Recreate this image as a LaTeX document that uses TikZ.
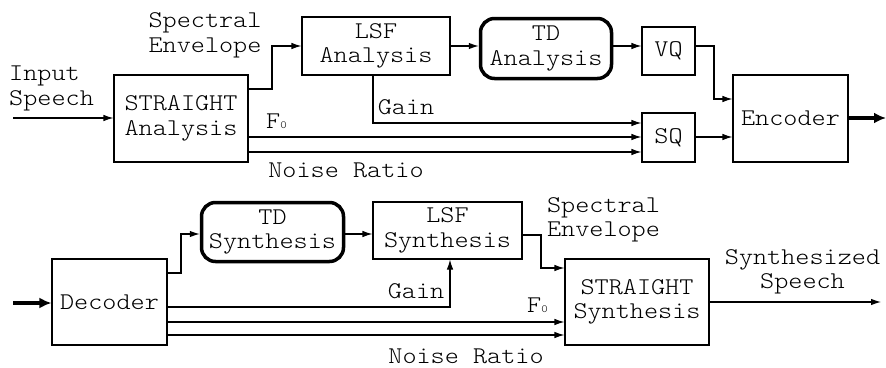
\documentclass[tikz,border=0pt]{standalone}
\usepackage{fontspec}
\setmonofont[FakeStretch=1.12]{Latin Modern Mono Light}
\usetikzlibrary{arrows.meta}
\begin{document}
\begin{tikzpicture}[x=1pt,y=-1pt,
  font=\ttfamily\fontsize{24}{24.5}\selectfont,
  box/.style={draw,line width=1.1pt,inner sep=0pt,align=center},
  tdbox/.style={draw,line width=3.5pt,rounded corners=14pt,inner sep=0pt,align=center},
  lbl/.style={inner sep=0pt,align=center},
  arr/.style={line width=1.1pt,-{Latex[length=10pt,width=6.5pt]}},
  thk/.style={line width=3.5pt,-{Latex[length=12pt,width=11pt]}}]
\useasboundingbox (0,0) rectangle (886,367);
% ---------- analysis ----------
\node[box,minimum width=134pt,minimum height=87pt] (sa) at (181,118.5) {STRAIGHT\\Analysis};
\node[box,minimum width=148pt,minimum height=58pt] (lsfa) at (376,46) {LSF\\Analysis};
\node[tdbox,minimum width=131pt,minimum height=60pt] (tda) at (546,48.5) {TD\\Analysis};
\node[box,minimum width=53pt,minimum height=48pt] (vq) at (668.5,51) {VQ};
\node[box,minimum width=53pt,minimum height=49pt] (sq) at (668.5,137.5) {SQ};
\node[box,minimum width=115pt,minimum height=87pt] (enc) at (790.5,118.5) {Encoder};
\coordinate (inA) at (13,118);
\coordinate (outA) at (886,118);
\node[lbl,anchor=west,align=left] (tInA) at (9,88.5) {Input\\Speech};
\node[lbl] (tSpA) at (205,35.5) {Spectral\\Envelope};
\node[lbl,anchor=base] (tGA) at (406,114) {Gain};
\node[lbl,anchor=base] (tFA) at (276.5,128) {F{\fontsize{11}{11}\selectfont 0}};
\node[lbl,anchor=base] (tNA) at (346,177) {Noise Ratio};
\draw[arr] (inA) -- (inA -| sa.west);
\draw[arr] (sa.east |- 0,89) -| (272,46) -- (lsfa.west |- 0,46);
\draw[arr] (lsfa.east |- 0,46) -- (tda.west |- 0,46);
\draw[arr] (tda.east |- 0,46) -- (vq.west |- 0,46);
\draw[arr] (lsfa.south -| 373,0) |- (sq.west |- 0,123);
\draw[arr] (sa.east |- 0,137) -- (sq.west |- 0,137);
\draw[arr] (sa.east |- 0,152) -- (sq.west |- 0,152);
\draw[arr] (vq.east |- 0,46) -| (714,99) -- (enc.west |- 0,99);
\draw[arr] (sq.east |- 0,137) -- (enc.west |- 0,137);
\draw[thk] (enc.east |- outA) -- (outA);
% ---------- synthesis ----------
\node[box,minimum width=115pt,minimum height=86pt] (dec) at (109.5,302) {Decoder};
\node[tdbox,minimum width=142pt,minimum height=59pt] (tds) at (272.5,232) {TD\\Synthesis};
\node[box,minimum width=149pt,minimum height=57pt] (lsfs) at (447.5,230.5) {LSF\\Synthesis};
\node[box,minimum width=144pt,minimum height=86pt] (ss) at (637,302) {STRAIGHT\\Synthesis};
\coordinate (inS) at (13,303);
\coordinate (outS) at (881,302);
\node[lbl,anchor=base] (tGS) at (416,298) {Gain};
\node[lbl,anchor=base] (tFS) at (537.5,312) {F{\fontsize{11}{11}\selectfont 0}};
\node[lbl,anchor=base] (tNS) at (466,363) {Noise Ratio};
\node[lbl,align=left] (tSpS) at (603.5,220) {Spectral\\Envelope};
\node[lbl] (tOut) at (802.5,272) {Synthesized\\Speech};
\draw[thk] (inS) -- (inS -| dec.west);
\draw[arr] (dec.east |- 0,273) -| (181,234) -- (tds.west |- 0,234);
\draw[arr] (tds.east |- 0,234) -- (lsfs.west |- 0,234);
\draw[arr] (dec.east |- 0,307) -| (lsfs.south -| 450,0);
\draw[arr] (dec.east |- 0,322) -- (ss.west |- 0,322);
\draw[arr] (dec.east |- 0,335) -- (ss.west |- 0,335);
\draw[arr] (lsfs.east |- 0,235) -| (541,268) -- (ss.west |- 0,268);
\draw[arr] (ss.east |- outS) -- (outS);
\end{tikzpicture}
\end{document}
